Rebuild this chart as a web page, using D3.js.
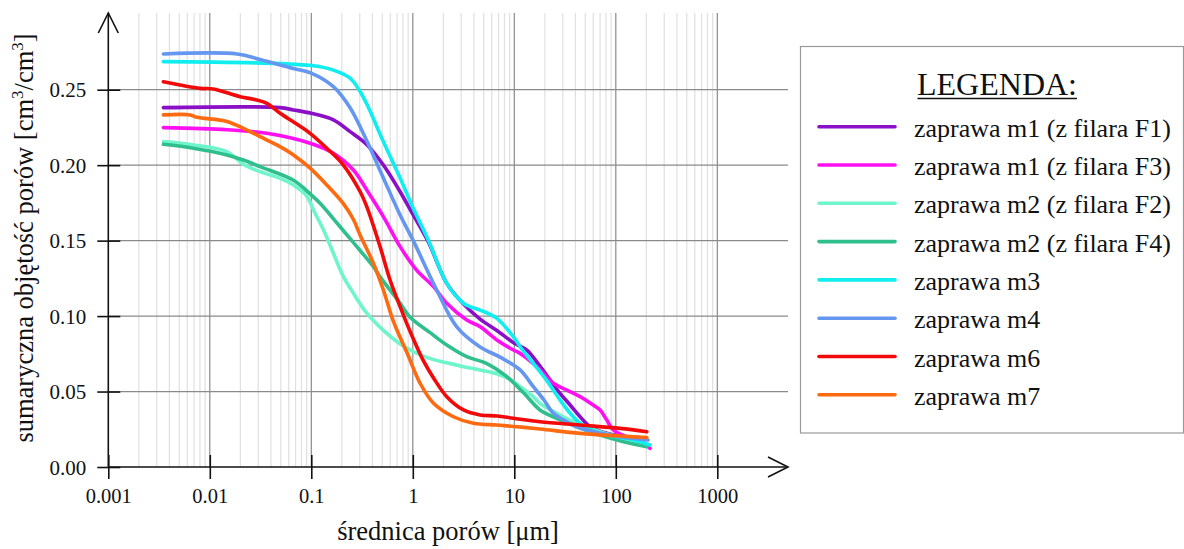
<!DOCTYPE html>
<html>
<head>
<meta charset="utf-8">
<script src="https://cdn.jsdelivr.net/npm/d3@7"></script>
<style>
  html, body { margin: 0; padding: 0; background: #fff; }
  svg { display: block; }
  svg text { font-family: "Liberation Serif", "Times New Roman", serif; }
</style>
</head>
<body>
<svg id="chart" width="1184" height="549"></svg>
<script>
// Cumulative pore volume [cm3/cm3] versus pore diameter [um], pairs of [diameter, volume]
const m1F1 = [[0.00349,0.2381],[0.049,0.2381],[0.0667,0.2366],[0.0995,0.2344],[0.165,0.230],[0.241,0.2222],[0.355,0.2134],[0.513,0.2001],[0.75,0.1824],[1.01,0.167],[1.42,0.1493],[2.16,0.1217],[3.16,0.108],[4.6,0.098],[6.73,0.0905],[10,0.082],[13.3,0.0775],[17.9,0.0668],[22.5,0.0577],[28.2,0.0488],[35.5,0.0411],[44.5,0.0333],[55.8,0.0267],[81.5,0.0223],[119,0.0201],[187,0.0163]];
const m1F3 = [[0.00349,0.2249],[0.0147,0.2235],[0.0365,0.2211],[0.0973,0.2145],[0.165,0.2079],[0.26,0.1968],[0.352,0.1836],[0.513,0.1659],[0.75,0.146],[1.09,0.1305],[1.6,0.1195],[2.16,0.1085],[3.4,0.0974],[4.6,0.093],[6.73,0.0842],[9.8,0.0775],[11.4,0.0753],[16.7,0.0665],[24.3,0.0555],[32.9,0.051],[44.5,0.0466],[59.7,0.0411],[70,0.0378],[81.5,0.0311],[94.6,0.0245],[128,0.0201],[187,0.0157],[218,0.0124]];
const m2F2 = [[0.00349,0.2156],[0.00689,0.2134],[0.0147,0.209],[0.0214,0.2005],[0.0313,0.1957],[0.0493,0.1913],[0.0667,0.1869],[0.0904,0.1795],[0.105,0.1703],[0.132,0.157],[0.165,0.1416],[0.207,0.1261],[0.26,0.1151],[0.352,0.1019],[0.513,0.0905],[0.75,0.0815],[1.01,0.0765],[1.54,0.0715],[2.16,0.069],[3.16,0.0665],[4.6,0.0643],[6.73,0.0618],[9.1,0.058],[11.4,0.0532],[15.4,0.0466],[17.9,0.0422],[26.2,0.0356],[41.3,0.029],[70,0.0234],[119,0.019],[202,0.0146]];
const m2F4 = [[0.00349,0.2138],[0.00689,0.2112],[0.0147,0.2068],[0.0214,0.2034],[0.0313,0.199],[0.0667,0.190],[0.0973,0.181],[0.122,0.1747],[0.192,0.1592],[0.281,0.146],[0.409,0.1327],[0.476,0.126],[0.75,0.1085],[0.93,0.0996],[1.48,0.089],[2.16,0.0808],[3.4,0.0731],[5.3,0.0687],[8.2,0.0605],[12.4,0.049],[17.9,0.0378],[26.2,0.0323],[41.3,0.0267],[70,0.0212],[119,0.0168],[202,0.0135]];
const m3 = [[0.00349,0.2686],[0.0995,0.266],[0.165,0.263],[0.241,0.2576],[0.303,0.2487],[0.355,0.240],[0.513,0.2156],[0.75,0.1915],[1.01,0.1714],[1.42,0.1504],[2.16,0.1217],[3.16,0.1085],[3.67,0.1062],[4.6,0.104],[6.73,0.0985],[10,0.0855],[11.4,0.0797],[15.4,0.0687],[20.7,0.0577],[28.2,0.0444],[35.5,0.0356],[44.5,0.029],[70,0.0223],[150,0.0179],[218,0.0146]];
const m4 = [[0.00349,0.2737],[0.0186,0.2737],[0.0313,0.270],[0.0667,0.264],[0.0995,0.261],[0.165,0.252],[0.241,0.238],[0.355,0.2156],[0.513,0.1915],[0.75,0.167],[1.01,0.150],[1.72,0.1173],[2.71,0.0928],[4.6,0.0795],[7.24,0.0728],[11.4,0.0643],[15.4,0.0532],[19.6,0.0444],[24.3,0.0356],[32.9,0.030],[44.5,0.0258],[70,0.0225],[110,0.020],[208,0.0179]];
const m6 = [[0.00349,0.2553],[0.00802,0.2509],[0.0108,0.2505],[0.0199,0.2454],[0.029,0.2432],[0.0365,0.241],[0.0493,0.2344],[0.0973,0.2211],[0.142,0.2112],[0.207,0.2001],[0.303,0.1824],[0.352,0.1725],[0.476,0.146],[0.597,0.1239],[0.75,0.1062],[0.873,0.095],[1.01,0.085],[1.27,0.0705],[1.6,0.059],[2.16,0.0466],[3.16,0.0378],[4.6,0.0345],[6.73,0.0338],[9.8,0.0323],[17.9,0.030],[44.5,0.0278],[110,0.0256],[202,0.0234]];
const m7 = [[0.00349,0.2333],[0.0064,0.2333],[0.00745,0.2317],[0.0147,0.229],[0.0214,0.2244],[0.0313,0.2189],[0.0457,0.2134],[0.0667,0.2068],[0.0973,0.198],[0.142,0.1869],[0.207,0.1745],[0.26,0.164],[0.303,0.1535],[0.409,0.135],[0.513,0.1173],[0.644,0.0965],[0.873,0.076],[1.18,0.0555],[1.6,0.0422],[2.51,0.0333],[3.95,0.029],[6.73,0.0278],[10.6,0.0267],[17.9,0.0252],[44.5,0.0223],[110,0.0205],[202,0.0195]];

const seriesNames = ["zaprawa m1 (z filara F1)", "zaprawa m1 (z filara F3)", "zaprawa m2 (z filara F2)", "zaprawa m2 (z filara F4)", "zaprawa m3", "zaprawa m4", "zaprawa m6", "zaprawa m7"];
const seriesValues = [m1F1, m1F3, m2F2, m2F4, m3, m4, m6, m7];
const seriesColors = ["#8a0fc6", "#ff10f0", "#6ff5cc", "#2fbf8c", "#10eef0", "#6596f0", "#f20a0a", "#ff6a10"];

const xTickValues = [0.001, 0.01, 0.1, 1, 10, 100, 1000];
const xTickLabels = ["0.001", "0.01", "0.1", "1", "10", "100", "1000"];
const yTickValues = [0, 0.05, 0.10, 0.15, 0.20, 0.25];
const yTickLabels = ["0.00", "0.05", "0.10", "0.15", "0.20", "0.25"];

const SERIF = "'Liberation Serif', 'Times New Roman', serif";
const svg = d3.select("#chart");

// plot frame
const left = 108.3, bottom = 467, axisRight = 788, axisTop = 13;
const x = d3.scaleLog().domain([0.001, 1000]).range([left, 717.3]);
const y = d3.scaleLinear().domain([0, 0.25]).range([bottom, 89.7]);

const grid = svg.append("g");
// minor vertical grid (2..9 of every decade)
const minor = [];
for (let e = -3; e < 3; e++) for (let k = 2; k <= 9; k++) minor.push(k * Math.pow(10, e));
grid.selectAll("line.minor").data(minor).join("line")
  .attr("x1", d => x(d)).attr("x2", d => x(d))
  .attr("y1", axisTop).attr("y2", bottom)
  .attr("stroke", "#e0e0e0").attr("stroke-width", 1.2);
// major vertical grid
grid.selectAll("line.majorx").data(xTickValues.slice(1)).join("line")
  .attr("x1", d => x(d)).attr("x2", d => x(d))
  .attr("y1", axisTop).attr("y2", bottom)
  .attr("stroke", "#8a8a8a").attr("stroke-width", 1.2);
// horizontal grid
grid.selectAll("line.majory").data(yTickValues.slice(1)).join("line")
  .attr("x1", left).attr("x2", axisRight)
  .attr("y1", d => y(d)).attr("y2", d => y(d))
  .attr("stroke", "#8a8a8a").attr("stroke-width", 1.2);

// curves
const line = d3.line()
  .x(d => x(d[0]))
  .y(d => y(d[1]))
  .curve(d3.curveCatmullRom.alpha(0.5));
svg.append("g").selectAll("path").data(seriesValues).join("path")
  .attr("d", line)
  .attr("fill", "none")
  .attr("stroke", (d, i) => seriesColors[i])
  .attr("stroke-width", 3.6)
  .attr("stroke-linejoin", "round")
  .attr("stroke-linecap", "round");

// axes
const xAxis = d3.axisBottom(x).tickValues(xTickValues)
  .tickFormat((d, i) => xTickLabels[i]).tickSize(12).tickPadding(18);
const gx = svg.append("g").attr("transform", `translate(0,${bottom})`).call(xAxis)
  .attr("font-family", SERIF);
gx.select(".domain").remove();
gx.selectAll(".tick line").attr("y1", -12).attr("y2", 12).attr("stroke", "#111").attr("stroke-width", 1.6);
gx.selectAll(".tick text").attr("font-size", 20.5).attr("fill", "#111")
  .attr("font-family", SERIF).attr("y", 36).attr("dy", 0);

const yAxis = d3.axisLeft(y).tickValues(yTickValues)
  .tickFormat((d, i) => yTickLabels[i]).tickSize(11);
const gy = svg.append("g").attr("transform", `translate(${left},0)`).call(yAxis)
  .attr("font-family", SERIF);
gy.select(".domain").remove();
gy.selectAll(".tick line").attr("x1", -11).attr("x2", 12).attr("stroke", "#111").attr("stroke-width", 1.6);
gy.selectAll(".tick text").attr("font-size", 21).attr("fill", "#111")
  .attr("font-family", SERIF).attr("x", -22).attr("dy", "0.34em");

// axis lines with open arrow heads
const axes = svg.append("g").attr("stroke", "#111").attr("stroke-width", 1.6).attr("fill", "none");
axes.append("line").attr("x1", left).attr("x2", left).attr("y1", bottom).attr("y2", axisTop);
axes.append("polyline").attr("points", `${left - 10},${axisTop + 20} ${left},${axisTop} ${left + 10},${axisTop + 20}`);
axes.append("line").attr("x1", left).attr("x2", axisRight).attr("y1", bottom).attr("y2", bottom);
axes.append("polyline").attr("points", `${axisRight - 20},${bottom - 10} ${axisRight},${bottom} ${axisRight - 20},${bottom + 10}`);

// axis titles
svg.append("text").attr("x", 448).attr("y", 540).attr("text-anchor", "middle")
  .attr("font-family", SERIF).attr("font-size", 26.5).attr("fill", "#111").text("średnica porów [μm]");

const yt = svg.append("text").attr("transform", "translate(33,238) rotate(-90)")
  .attr("text-anchor", "middle").attr("font-family", SERIF).attr("font-size", 26.5).attr("fill", "#111");
yt.append("tspan").text("sumaryczna objętość porów [cm");
yt.append("tspan").attr("font-size", 17).attr("dy", -10).text("3");
yt.append("tspan").attr("dy", 10).text("/cm");
yt.append("tspan").attr("font-size", 17).attr("dy", -10).text("3");
yt.append("tspan").attr("dy", 10).text("]");

// legend
const lg = svg.append("g").attr("font-family", SERIF);
lg.append("rect").attr("x", 800.5).attr("y", 46.5).attr("width", 383).attr("height", 386.5)
  .attr("fill", "#fff").attr("stroke", "#9a9a9a").attr("stroke-width", 1.2);
lg.append("text").attr("x", 997).attr("y", 95).attr("text-anchor", "middle")
  .attr("font-family", SERIF).attr("font-size", 32).attr("fill", "#111").text("LEGENDA:");
lg.append("line").attr("x1", 917.5).attr("x2", 1077).attr("y1", 98.5).attr("y2", 98.5)
  .attr("stroke", "#111").attr("stroke-width", 1.4);
const items = lg.selectAll("g.item").data(seriesNames).join("g")
  .attr("transform", (d, i) => `translate(0,${126.7 + i * 38.3})`);
items.append("line").attr("x1", 819).attr("x2", 895).attr("y1", 0).attr("y2", 0)
  .attr("stroke", (d, i) => seriesColors[i]).attr("stroke-width", 3.6).attr("stroke-linecap", "round");
items.append("text").attr("x", 914).attr("y", 10).attr("font-size", 26)
  .attr("font-family", SERIF).attr("fill", "#111").text(d => d);
</script>
</body>
</html>
